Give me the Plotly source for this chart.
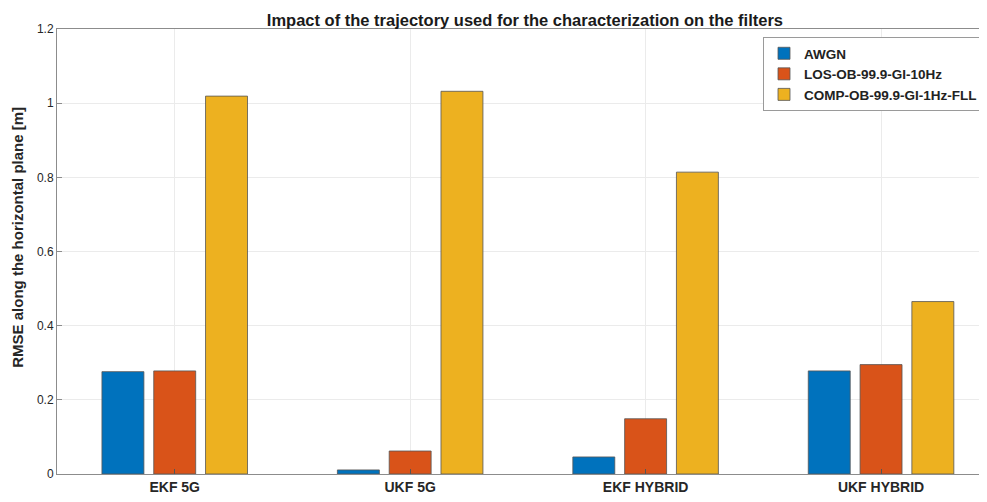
import plotly.graph_objects as go

filters = ["EKF 5G", "UKF 5G", "EKF HYBRID", "UKF HYBRID"]
awgn = [0.276, 0.011, 0.046, 0.278]
los_10hz = [0.278, 0.062, 0.149, 0.295]
comp_fll = [1.019, 1.032, 0.814, 0.465]
y_ticks = [0, 0.2, 0.4, 0.6, 0.8, 1, 1.2]

series = [
    ("AWGN", awgn, "#0072BD"),
    ("LOS-OB-99.9-GI-10Hz", los_10hz, "#D95319"),
    ("COMP-OB-99.9-GI-1Hz-FLL", comp_fll, "#EDB120"),
]

font = "Liberation Sans, Arial, Helvetica, sans-serif"

fig = go.Figure()
for name, vals, col in series:
    fig.add_trace(go.Bar(
        x=filters, y=vals, name="<b>" + name + "</b>",
        marker=dict(color=col, line=dict(color="#555555", width=0.8)),
    ))

# page has an 8px body margin, so the figure is sized/offset to compensate
fig.update_layout(
    width=979, height=494,
    margin=dict(l=49, r=0, t=21, b=28),
    paper_bgcolor="white", plot_bgcolor="white",
    barmode="group", bargap=0.34, bargroupgap=0.19,
    font=dict(family=font, size=12, color="#262626"),
    title=dict(text="<b>Impact of the trajectory used for the characterization on the filters</b>",
               x=0.528, xanchor="center", y=0.976, yanchor="middle",
               font=dict(size=16.5, color="#1a1a1a")),
    legend=dict(x=0.9957, xanchor="right", y=0.982, yanchor="top",
                bgcolor="white", bordercolor="#9a9a9a", borderwidth=1,
                font=dict(size=13.5, color="#222222"), tracegroupgap=0),
    annotations=[dict(text="<b>RMSE along the horizontal plane [m]</b>", textangle=-90,
                      xref="paper", yref="paper", x=-0.042, y=0.533,
                      xanchor="center", yanchor="middle", showarrow=False,
                      font=dict(size=15, color="#262626"))],
)

fig.update_xaxes(
    range=[-0.5, 3.45], showline=True, linecolor="#8c8c8c", linewidth=1, mirror=True,
    showgrid=True, gridcolor="#ebebeb", ticks="inside", ticklen=5, tickcolor="#555555",
    tickfont=dict(size=14, color="#262626"), tickprefix="<b>", ticksuffix="</b>",
)
fig.update_yaxes(
    range=[0, 1.2], tickvals=y_ticks, showline=True, linecolor="#8c8c8c", linewidth=1,
    showgrid=True, gridcolor="#ebebeb", ticks="inside", ticklen=5, tickcolor="#8c8c8c",
    tickfont=dict(size=12, color="#262626"), tickprefix="<b>", ticksuffix="</b>",
    zeroline=False,
)

fig.write_html("out.html")
